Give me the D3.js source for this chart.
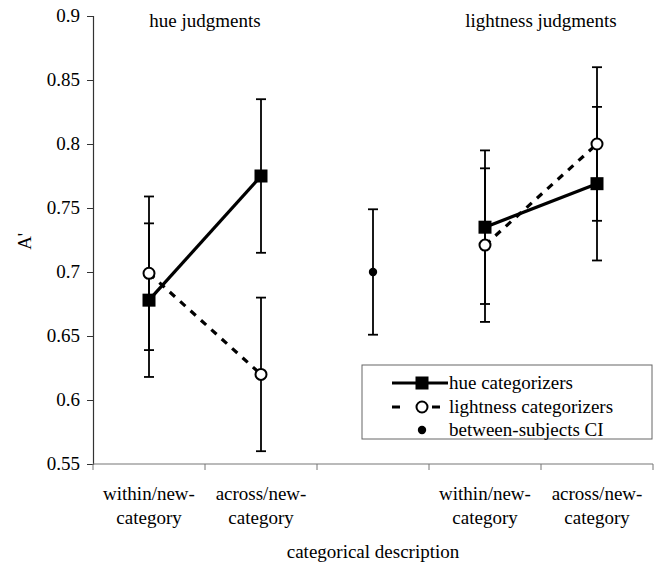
<!DOCTYPE html>
<html>
<head>
<meta charset="utf-8">
<script src="https://cdn.jsdelivr.net/npm/d3@7"></script>
</head>
<body style="margin:0;background:#fff">
<div id="chart"></div>
<script>
// categories along the x axis (middle slot holds the between-subjects CI)
const categories = ['hw', 'ha', 'ci', 'lw', 'la'];
const tickLabels = [['within/new-', 'category'], ['across/new-', 'category'], ['', ''],
  ['within/new-', 'category'], ['across/new-', 'category']];
const groupTitles = ['hue judgments', 'lightness judgments'];

// hue categorizers: [hue judgments within, across, lightness judgments within, across]
const hueCats = ['hw', 'ha', 'lw', 'la'];
const hueMean = [0.678, 0.775, 0.735, 0.769];
const hueLow = [0.618, 0.715, 0.675, 0.709];
const hueHigh = [0.738, 0.835, 0.795, 0.829];

// lightness categorizers
const ltMean = [0.699, 0.620, 0.721, 0.800];
const ltLow = [0.639, 0.560, 0.661, 0.740];
const ltHigh = [0.759, 0.680, 0.781, 0.860];

// between-subjects CI
const ciMean = [0.700];
const ciLow = [0.651];
const ciHigh = [0.749];

const yTicks = [0.55, 0.6, 0.65, 0.7, 0.75, 0.8, 0.85, 0.9];

const width = 659;
const height = 567;
const margin = { t: 16, r: 6, b: 103, l: 93 };
const fs = 19;
const font = 'Liberation Serif';

const svg = d3.select('#chart').append('svg')
  .attr('width', width)
  .attr('height', height)
  .style('display', 'block');

// place text by measuring it instead of using text-anchor
function label(g, tx, ty, s, anchor = 'middle') {
  const t = g.append('text')
    .attr('x', tx)
    .attr('y', ty)
    .attr('font-family', font)
    .attr('font-size', fs)
    .text(s);
  const w = t.node().getComputedTextLength();
  const shift = anchor === 'middle' ? w / 2 : anchor === 'end' ? w : 0;
  t.attr('x', tx - shift);
  return t;
}

const x = d3.scaleBand().domain(categories).range([margin.l, width - margin.r]).padding(0);
const y = d3.scaleLinear().domain([0.55, 0.9]).range([height - margin.b, margin.t]);
const cx = (c) => x(c) + x.bandwidth() / 2;

// y axis (tick marks from d3, labels placed by hand)
const fmt = (d) => String(+d.toFixed(2));
const yAxis = d3.axisLeft(y).tickValues(yTicks).tickSize(6);
const gy = svg.append('g').attr('transform', `translate(${margin.l},0)`).call(yAxis);
gy.selectAll('.tick text').remove();
gy.attr('text-anchor', null).attr('font-family', null).attr('font-size', null);
gy.select('.domain').attr('stroke', '#333').attr('stroke-width', 1.2);
gy.selectAll('.tick line').attr('stroke', '#333');
yTicks.forEach((v) => label(svg, margin.l - 13, y(v) + 6, fmt(v), 'end'));

// x axis: ticks sit on band boundaries
const xBase = y(0.55);
svg.append('line')
  .attr('x1', margin.l).attr('x2', width - margin.r)
  .attr('y1', xBase).attr('y2', xBase)
  .attr('stroke', '#777').attr('stroke-width', 1.2);
const bounds = categories.map((c) => x(c)).concat([x.range()[1]]);
svg.append('g').selectAll('line').data(bounds).join('line')
  .attr('x1', (d) => d).attr('x2', (d) => d)
  .attr('y1', xBase).attr('y2', xBase + 6)
  .attr('stroke', '#777');

const xl = svg.append('g');
categories.forEach((c, i) => {
  if (!tickLabels[i][0]) return;
  label(xl, cx(c), xBase + 36, tickLabels[i][0]);
  label(xl, cx(c), xBase + 60, tickLabels[i][1]);
});

label(svg, x.range()[0] + (x.range()[1] - x.range()[0]) / 2, height - 9, 'categorical description');

const yl = svg.append('g').attr('transform', `translate(31,${y(0.724)}) rotate(-90)`);
label(yl, 0, 0, "A'");

// group titles
const titleX = [(x('hw') + x('ha') + x.bandwidth()) / 2, (x('lw') + x('la') + x.bandwidth()) / 2];
groupTitles.forEach((t, i) => label(svg, titleX[i], 27, t));

// connecting lines, one segment per judgment group
const line = d3.line().x((d) => cx(d.c)).y((d) => y(d.v));
const pairs = [[0, 1], [2, 3]];
pairs.forEach(([a, b]) => {
  svg.append('path')
    .attr('d', line([{ c: hueCats[a], v: hueMean[a] }, { c: hueCats[b], v: hueMean[b] }]))
    .attr('fill', 'none').attr('stroke', '#000').attr('stroke-width', 3.2);
  svg.append('path')
    .attr('d', line([{ c: hueCats[a], v: ltMean[a] }, { c: hueCats[b], v: ltMean[b] }]))
    .attr('fill', 'none').attr('stroke', '#000').attr('stroke-width', 3.2)
    .attr('stroke-dasharray', '7,7');
});

// error bars
function errorBars(cats, lo, hi) {
  const g = svg.append('g').attr('stroke', '#000').attr('stroke-width', 1.8);
  cats.forEach((c, i) => {
    const xc = cx(c);
    g.append('line').attr('x1', xc).attr('x2', xc).attr('y1', y(lo[i])).attr('y2', y(hi[i]));
    g.append('line').attr('x1', xc - 5).attr('x2', xc + 5).attr('y1', y(lo[i])).attr('y2', y(lo[i]));
    g.append('line').attr('x1', xc - 5).attr('x2', xc + 5).attr('y1', y(hi[i])).attr('y2', y(hi[i]));
  });
}
errorBars(hueCats, hueLow, hueHigh);
errorBars(hueCats, ltLow, ltHigh);
errorBars(['ci'], ciLow, ciHigh);

// markers
const sq = 13;
svg.append('g').selectAll('rect').data(hueMean).join('rect')
  .attr('x', (d, i) => cx(hueCats[i]) - sq / 2)
  .attr('y', (d) => y(d) - sq / 2)
  .attr('width', sq).attr('height', sq).attr('fill', '#000');
svg.append('g').selectAll('circle').data(ltMean).join('circle')
  .attr('cx', (d, i) => cx(hueCats[i]))
  .attr('cy', (d) => y(d))
  .attr('r', 5.5).attr('fill', '#fff').attr('stroke', '#000').attr('stroke-width', 2);
svg.append('g').selectAll('circle').data(ciMean).join('circle')
  .attr('cx', cx('ci')).attr('cy', (d) => y(d)).attr('r', 4.2).attr('fill', '#000');

// legend
const lg = svg.append('g').attr('transform', 'translate(362,365)');
lg.append('rect').attr('width', 290).attr('height', 74)
  .attr('fill', '#fff').attr('stroke', '#666').attr('stroke-width', 1);
const rows = [18, 42, 65];
const legendLabels = ['hue categorizers', 'lightness categorizers', 'between-subjects CI'];
lg.append('line').attr('x1', 30).attr('x2', 86).attr('y1', rows[0]).attr('y2', rows[0])
  .attr('stroke', '#000').attr('stroke-width', 3.2);
lg.append('rect').attr('x', 60 - sq / 2).attr('y', rows[0] - sq / 2).attr('width', sq).attr('height', sq);
lg.append('line').attr('x1', 30).attr('x2', 78).attr('y1', rows[1]).attr('y2', rows[1])
  .attr('stroke', '#000').attr('stroke-width', 3.2).attr('stroke-dasharray', '8,32');
lg.append('circle').attr('cx', 60).attr('cy', rows[1]).attr('r', 5.5)
  .attr('fill', '#fff').attr('stroke', '#000').attr('stroke-width', 2);
lg.append('circle').attr('cx', 60).attr('cy', rows[2]).attr('r', 4.2).attr('fill', '#000');
legendLabels.forEach((t, i) => label(lg, 87, rows[i] + 6, t, 'start'));
</script>
</body>
</html>
